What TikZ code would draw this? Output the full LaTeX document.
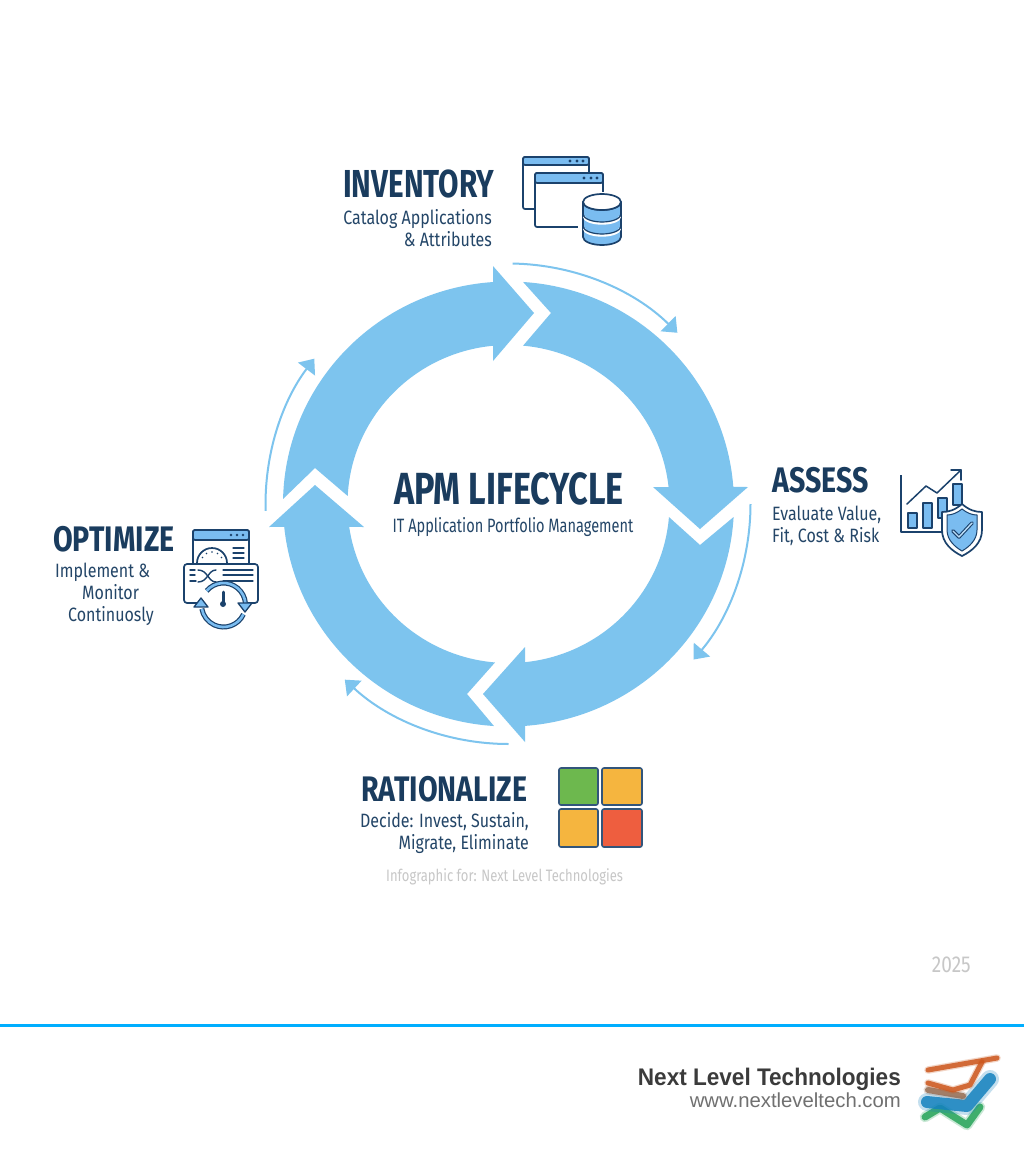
\documentclass[tikz,border=0pt]{standalone}
\usepackage{fontspec}
\usetikzlibrary{arrows.meta,calc}
\newfontfamily\titlef[FakeStretch=0.76]{Fira Sans}
\newfontfamily\titleg[FakeStretch=0.805]{Fira Sans}
\newfontfamily\subf[FakeStretch=0.83]{Fira Sans}
\newfontfamily\subg[FakeStretch=0.753]{Fira Sans}
\newfontfamily\credf[FakeStretch=0.79]{Fira Sans}
\newfontfamily\footf{Liberation Sans}
\newfontfamily\footb[FakeStretch=0.94]{Liberation Sans}
\definecolor{ringblue}{RGB}{125,196,238}
\definecolor{navy}{RGB}{26,60,94}
\definecolor{subnavy}{RGB}{36,70,104}
\definecolor{iconline}{RGB}{27,66,108}
\definecolor{iconfill}{RGB}{122,188,240}
\definecolor{footblue}{RGB}{0,174,255}
\definecolor{logoorange}{RGB}{205,88,30}
\definecolor{logobrown}{RGB}{150,110,85}
\definecolor{logoblue}{RGB}{20,130,190}
\definecolor{logogreen}{RGB}{40,165,90}
\tikzset{
  x=1pt,y=1pt,
  ring/.style={fill=ringblue,draw=none},
  thin arrow/.style={draw=ringblue,line width=2pt,-{Triangle[length=13pt,width=21pt,fill=ringblue]}},
  title/.style={inner sep=0pt,text=navy,font=\titleg\bfseries\fontsize{35.5}{36}\selectfont},
  subtitle/.style={inner sep=0pt,text=subnavy,align=left,font=\subf\fontsize{19.3}{22}\selectfont},
  icon/.style={draw=iconline,line width=1.7pt,line join=round,line cap=round},
  tile/.style={draw=iconline!90!white,line width=1.6pt,rounded corners=2pt},
  ghost/.style={inner sep=0pt,text=black!22},
  logostroke/.style={line join=round,line cap=round},
}
\newcommand\softline[3]{%
  \draw[logostroke,#1,opacity=.25,line width=#2*1.5] #3;
  \draw[logostroke,#1,opacity=.85,line width=#2] #3;
}
\begin{document}
\begin{tikzpicture}
\useasboundingbox (0,0) rectangle (1024,-1154);
\fill[white] (0,0) rectangle (1024,-1154);
\coordinate (c) at (508.5,-504);
\def\oR{225.5pt and 222.5pt}
\def\iR{161pt and 159pt}
% ring
\fill[ring] ($(c)+(178.7:\oR)$) arc[start angle=178.7,end angle=93.9,x radius=225.5pt,y radius=222.5pt]
  -- (493,-266) -- (534,-313) -- (493,-361)
  -- ($(c)+(95.5:\iR)$) arc[start angle=95.5,end angle=177.1,x radius=161pt,y radius=159pt]
  -- (315,-468) -- cycle;
\fill[ring] ($(c)+(86.3:\oR)$) arc[start angle=86.3,end angle=4.4,x radius=225.5pt,y radius=222.5pt]
  -- (748,-487) -- (700,-529) -- (653,-487)
  -- ($(c)+(6.1:\iR)$) arc[start angle=6.1,end angle=84.8,x radius=161pt,y radius=159pt]
  -- (551,-313) -- cycle;
\fill[ring] ($(c)+(-3.35:\oR)$) arc[start angle=-3.35,end angle=-85.8,x radius=225.5pt,y radius=222.5pt]
  -- (525,-742) -- (483,-694) -- (525,-647)
  -- ($(c)+(-84.1:\iR)$) arc[start angle=-84.1,end angle=-4.7,x radius=161pt,y radius=159pt]
  -- (700,-545) -- cycle;
\fill[ring] ($(c)+(266.3:\oR)$) arc[start angle=266.3,end angle=185.9,x radius=225.5pt,y radius=222.5pt]
  -- (269,-527) -- (315,-485) -- (364,-527)
  -- ($(c)+(188.3:\iR)$) arc[start angle=188.3,end angle=265.2,x radius=161pt,y radius=159pt]
  -- (467,-694) -- cycle;
% thin arrows
\coordinate (s1) at ($(c)+(89:240.5pt)$);
\coordinate (s2) at ($(c)+(0:242pt)$);
\coordinate (s3) at ($(c)+(-90:240pt)$);
\coordinate (s4) at ($(c)+(181.6:243pt)$);
\draw[thin arrow] (s1) arc[start angle=89,end angle=45.4,radius=240.5pt];
\draw[thin arrow] (s2) arc[start angle=0,end angle=-40.2,radius=241pt];
\draw[thin arrow] (s3) arc[start angle=-90,end angle=-132.9,radius=240.5pt];
\draw[thin arrow] (s4) arc[start angle=181.6,end angle=142.9,radius=241pt];
% centre
\node[title,anchor=base,font=\titlef\bfseries\fontsize{45}{45}\selectfont] (apm) at (509,-504) {APM LIFECYCLE};
\node[subtitle,anchor=base,font=\subg\fontsize{19.3}{22}\selectfont] (apmsub) at (513,-532) {IT Application Portfolio Management};
% labels
\node[title,anchor=base west,font=\titlef\bfseries\fontsize{39}{39}\selectfont] (inv) at (343,-197) {INVENTORY};
\node[subtitle,anchor=north east,align=right] (invsub) at (492,-209) {Catalog Applications\\\& Attributes};
\node[title,anchor=base west] (ass) at (772,-492) {ASSESS};
\node[subtitle,anchor=north west] (asssub) at (772,-506) {Evaluate Value,\\Fit, Cost \& Risk};
\node[title,anchor=base west] (opt) at (53,-551) {OPTIMIZE};
\node[subtitle,anchor=north west] (optsub) at (55,-562.5) {Implement \&\\\hspace*{27pt}Monitor\\\hspace*{13pt}Continuosly};
\node[title,anchor=base west] (rat) at (361,-801) {RATIONALIZE};
\node[subtitle,anchor=north east,align=right] (ratsub) at (529,-812) {Decide: Invest, Sustain,\\Migrate, Eliminate};
\node[ghost,anchor=base west,font=\credf\fontsize{16.5}{18}\selectfont] (credit) at (386,-881) {Infographic for: Next Level Technologies};
\node[ghost,anchor=base east,font=\subf\fontsize{23}{23}\selectfont] (year) at (971,-972) {2025};
% inventory icon
\filldraw[icon,fill=white,rounded corners=2pt] (523,-157) rectangle (589,-209);
\filldraw[icon,fill=iconfill,rounded corners=2pt] (523,-165) -- (523,-157) -- (589,-157) -- (589,-165) -- cycle;
\foreach \x in {570,577,583} \fill[iconline] (\x,-161) circle (1.6pt);
\filldraw[icon,fill=white,rounded corners=2pt] (535,-173) rectangle (603,-227);
\filldraw[icon,fill=iconfill,rounded corners=2pt] (535,-183) -- (535,-173) -- (603,-173) -- (603,-183) -- cycle;
\foreach \x in {584,591,597} \fill[iconline] (\x,-178) circle (1.6pt);
\fill[white] (578,-192) rectangle (625,-250);
\filldraw[icon,fill=iconfill] (583,-202) -- (583,-237) arc[start angle=180,end angle=360,x radius=19pt,y radius=8pt] -- (621,-202) arc[start angle=0,end angle=-180,x radius=19pt,y radius=8pt];
\draw[draw=white,line width=2.4pt] (584,-216.5) arc[start angle=180,end angle=360,x radius=18pt,y radius=7pt];
\draw[draw=white,line width=2.4pt] (584,-228.5) arc[start angle=180,end angle=360,x radius=18pt,y radius=7pt];
\draw[icon,line width=1.2pt] (583,-214) arc[start angle=180,end angle=360,x radius=19pt,y radius=8pt];
\draw[icon,line width=1.2pt] (583,-226) arc[start angle=180,end angle=360,x radius=19pt,y radius=8pt];
\filldraw[icon,fill=white] (602,-202) ellipse[x radius=19pt,y radius=8pt];
% assess icon
\draw[icon,line cap=butt] (901,-475) -- (901,-532) -- (943,-532);
\foreach \a/\b/\t/\bt in {908/917/513/528,923/932/503/528,938/947/498/518,953/962/484/505}
  \filldraw[icon,fill=iconfill,line width=1.5pt] (\a,-\t) rectangle (\b,-\bt);
\draw[icon,line width=1.5pt] (907,-504) -- (926,-486) -- (937,-493) -- (961,-470);
\draw[icon,line width=1.5pt] (951,-470) -- (961,-470) -- (961,-480);
\filldraw[icon,fill=white] (962,-504) .. controls (955,-510) and (949,-512) .. (942,-512) -- (942,-530) .. controls (942,-543) and (952,-551) .. (962,-556) .. controls (972,-551) and (982,-543) .. (982,-530) -- (982,-512) .. controls (975,-512) and (969,-510) .. (962,-504) -- cycle;
\filldraw[draw=iconline,line width=1pt,fill=iconfill] (962,-509) .. controls (957,-513) and (952,-515) .. (947,-515) -- (947,-530) .. controls (947,-540) and (955,-547) .. (962,-551) .. controls (969,-547) and (977,-540) .. (977,-530) -- (977,-515) .. controls (972,-515) and (967,-513) .. (962,-509) -- cycle;
\draw[iconline,line width=3.6pt,line cap=round,line join=round] (953,-531) -- (959,-537) -- (972,-523);
\draw[iconfill!50!white,line width=1.4pt,line cap=round,line join=round] (953,-531) -- (959,-537) -- (972,-523);
% optimize icon
\filldraw[icon,fill=white,rounded corners=2pt] (193,-530) rectangle (249,-566);
\filldraw[icon,fill=iconfill,rounded corners=2pt] (193,-540) -- (193,-530) -- (249,-530) -- (249,-540) -- cycle;
\foreach \x in {231,237,243} \fill[iconline] (\x,-535) circle (1.3pt);
\draw[icon] (197,-563) arc[start angle=180,end angle=0,radius=15pt];
\foreach \a in {150,120,90,60,30} \fill[iconline] ($(212,-563)+(\a:11pt)$) circle (0.9pt);
\foreach \y in {548,553,558} \draw[icon,line width=1.3pt] (233,-\y) -- (244,-\y);
\filldraw[icon,fill=white,rounded corners=3pt] (184,-564) rectangle (258,-603);
\foreach \y/\e in {570/253,575/253,581/253} \draw[icon,line width=1.3pt] (223,-\y) -- (\e,-\y);
\draw[icon,line width=1.4pt] (190,-570) -- (195,-570) (190,-575) -- (195,-575) (190,-581) -- (196,-581);
\draw[icon,line width=1.4pt] (198,-570) .. controls (208,-570) and (208,-582) .. (216,-582);
\draw[icon,line width=1.4pt] (198,-582) .. controls (208,-582) and (208,-570) .. (216,-570);
\coordinate (cu) at ($(223.5,-605)+(140:22pt)$);
\coordinate (cl) at ($(223.5,-605)+(-25:22pt)$);
\fill[white] (223.5,-605) circle (24pt);
\draw[iconline,line width=5pt] (cu) arc[start angle=140,end angle=5,radius=22pt];
\draw[iconfill,line width=2.6pt] (cu) arc[start angle=140,end angle=5,radius=22pt];
\draw[iconline,line width=5pt] (cl) arc[start angle=-25,end angle=-170,radius=22pt];
\draw[iconfill,line width=2.6pt] (cl) arc[start angle=-25,end angle=-170,radius=22pt];
\filldraw[icon,fill=iconfill,line width=1.3pt] (238,-603) -- (252,-603) -- (245,-612) -- cycle;
\filldraw[icon,fill=iconfill,line width=1.3pt] (194,-607) -- (208,-607) -- (201,-598) -- cycle;
\draw[iconline,line width=3pt,line cap=round] (223,-592) -- (223,-603);
\fill[iconline] (223,-604) circle (3pt);
% rationalize tiles
\filldraw[tile,fill={rgb,255:red,109;green,184;blue,78}] (559,-768) rectangle (598,-805);
\filldraw[tile,fill={rgb,255:red,245;green,181;blue,63}] (602,-768) rectangle (642,-805);
\filldraw[tile,fill={rgb,255:red,245;green,181;blue,63}] (559,-809) rectangle (598,-847);
\filldraw[tile,fill={rgb,255:red,238;green,94;blue,63}] (602,-809) rectangle (642,-847);
% footer
\fill[footblue] (0,-1024) rectangle (1024,-1027);
\node[inner sep=0pt,anchor=base east,text=black!77,font=\footb\bfseries\fontsize{24}{24}\selectfont] (brand) at (901,-1085) {Next Level Technologies};
\node[inner sep=0pt,anchor=base east,text=black!56,font=\footf\fontsize{20.3}{20}\selectfont] (url) at (901,-1107) {www.nextleveltech.com};
% logo
\softline{draw=logogreen}{7pt}{(925,-1117) -- (940,-1108) -- (967,-1125) -- (980,-1107)}
\softline{draw=logoblue}{12pt}{(927,-1102) -- (967,-1106) -- (990,-1079)}
\softline{draw=logobrown}{6pt}{(928,-1090) -- (963,-1096)}
\softline{draw=logoorange}{5pt}{(928,-1083) -- (953,-1090) -- (970,-1085) -- (982,-1062)}
\softline{draw=logoorange}{5pt}{(928,-1070) -- (997,-1058)}
\end{tikzpicture}
\end{document}
